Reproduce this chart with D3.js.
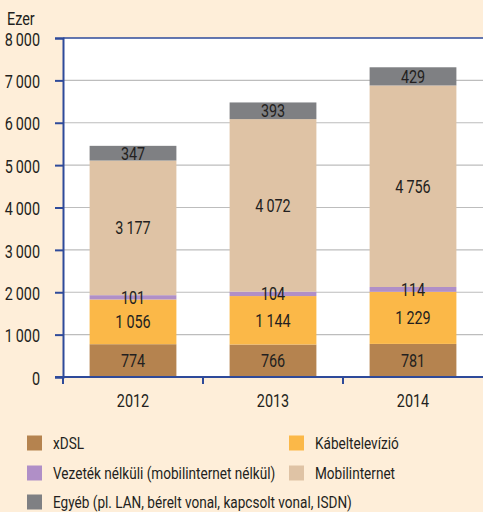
<!DOCTYPE html>
<html>
<head>
<meta charset="utf-8">
<script src="https://cdn.jsdelivr.net/npm/d3@7"></script>
<style>
  html, body { margin: 0; padding: 0; background: #feeed9; }
  svg { display: block; }
  text { font-family: "Roboto", "Liberation Sans", sans-serif; fill: #231f20; }
</style>
</head>
<body>
<svg id="chart" width="483" height="512"></svg>
<script>
// Internet subscriptions by access type, thousands
const years = ["2012", "2013", "2014"];
const seriesNames = [
  "xDSL",
  "Kábeltelevízió",
  "Vezeték nélküli (mobilinternet nélkül)",
  "Mobilinternet",
  "Egyéb (pl. LAN, bérelt vonal, kapcsolt vonal, ISDN)"
];
const seriesColors = ["#b5834f", "#fbb848", "#b08fc7", "#dfc3a5", "#7f8083"];
const xdsl = [774, 766, 781];
const kabel = [1056, 1144, 1229];
const vezetekNelkuli = [101, 104, 114];
const mobil = [3177, 4072, 4756];
const egyeb = [347, 393, 429];
const yTicks = [0, 1000, 2000, 3000, 4000, 5000, 6000, 7000, 8000];
const unitLabel = "Ezer";

const seriesValues = [xdsl, kabel, vezetekNelkuli, mobil, egyeb];
const rows = years.map((yr, i) => {
  const r = { year: yr };
  seriesNames.forEach((n, s) => r[n] = seriesValues[s][i]);
  return r;
});
const stacked = d3.stack().keys(seriesNames)(rows);

const svg = d3.select("#chart");
const plotLeft = 63, plotRight = 483, plotTop = 38, plotBottom = 377;
const narrow = 0.8; // horizontal squeeze for a condensed look

const x = d3.scaleBand().domain(years).range([plotLeft, plotRight]).paddingInner(0.38).paddingOuter(0.19);
const xBand = d3.scaleBand().domain(years).range([plotLeft, plotRight]);
const y = d3.scaleLinear().domain([0, 8000]).range([plotBottom, plotTop]);

// plot area
svg.append("rect").attr("x", plotLeft).attr("y", plotTop)
  .attr("width", plotRight - plotLeft).attr("height", plotBottom - plotTop).attr("fill", "#ffffff");

// gridlines
svg.append("g").selectAll("line").data(yTicks.filter(t => t > 0 && t < 8000)).join("line")
  .attr("x1", plotLeft).attr("x2", plotRight)
  .attr("y1", d => y(d)).attr("y2", d => y(d))
  .attr("stroke", "#bdbdbd").attr("stroke-width", 1.2);

// top border
svg.append("line").attr("x1", plotLeft).attr("x2", plotRight)
  .attr("y1", y(8000)).attr("y2", y(8000))
  .attr("stroke", "#2e4a9a").attr("stroke-width", 1.5);

// stacked bars
const fmt = v => d3.format(",")(v).replace(/,/g, "\u2009");
const layers = svg.append("g").selectAll("g").data(stacked).join("g")
  .attr("fill", (d, i) => seriesColors[i]);
layers.selectAll("rect").data(d => d).join("rect")
  .attr("x", d => x(d.data.year))
  .attr("width", x.bandwidth())
  .attr("y", d => y(d[1]))
  .attr("height", d => y(d[0]) - y(d[1]));

// value labels
const labels = svg.append("g");
stacked.forEach(layer => {
  layer.forEach(d => {
    labels.append("text")
      .attr("x", x(d.data.year) + x.bandwidth() / 2)
      .attr("y", (y(d[0]) + y(d[1])) / 2)
      .attr("dy", "0.36em")
      .attr("text-anchor", "middle")
      .attr("font-size", 18)
      .text(fmt(d[1] - d[0]));
  });
});

// y axis
const yAxis = d3.axisLeft(y).tickValues(yTicks).tickSize(8).tickPadding(15)
  .tickFormat(fmt);
const gy = svg.append("g").attr("transform", `translate(${plotLeft},0)`).call(yAxis);
gy.select(".domain").attr("stroke", "#2e4a9a").attr("stroke-width", 2);
gy.selectAll(".tick line").attr("stroke", "#2e4a9a").attr("stroke-width", 2);
gy.selectAll(".tick text").attr("font-size", 18).attr("fill", "#231f20")
  .attr("dy", "0.4em")
  .style("font-family", "Roboto, 'Liberation Sans', sans-serif");

// x axis with ticks at band boundaries
const gx = svg.append("g").attr("transform", `translate(0,${plotBottom})`);
gx.append("line").attr("x1", plotLeft - 8).attr("x2", plotRight)
  .attr("stroke", "#2e4a9a").attr("stroke-width", 2);
gx.selectAll("line.tk").data(years).join("line").attr("class", "tk")
  .attr("x1", d => xBand(d)).attr("x2", d => xBand(d))
  .attr("y1", 0).attr("y2", 7)
  .attr("stroke", "#2e4a9a").attr("stroke-width", 2);
gx.selectAll("text").data(years).join("text")
  .attr("x", d => xBand(d) + xBand.bandwidth() / 2)
  .attr("y", 30)
  .attr("text-anchor", "middle")
  .attr("font-size", 18)
  .text(d => d);

// unit label
svg.append("text").attr("x", 7).attr("y", 25).attr("font-size", 18).text(unitLabel);

// legend
const legendPos = [[27, 443], [289, 443], [27, 473], [289, 473], [27, 502]];
const lg = svg.append("g");
seriesNames.forEach((n, i) => {
  const [lx, ly] = legendPos[i];
  lg.append("rect").attr("x", lx).attr("y", ly - 7.5).attr("width", 15).attr("height", 15)
    .attr("fill", seriesColors[i]);
  lg.append("text").attr("x", lx + 26).attr("y", ly).attr("dy", "0.36em")
    .attr("font-size", 17).text(n);
});

// squeeze every label horizontally around its anchor point
svg.selectAll("text").each(function () {
  const t = d3.select(this);
  const tx = +t.attr("x") || 0, ty = +t.attr("y") || 0;
  t.attr("x", 0).attr("y", 0)
    .attr("transform", `translate(${tx},${ty}) scale(${narrow},1)`);
});
</script>
</body>
</html>
